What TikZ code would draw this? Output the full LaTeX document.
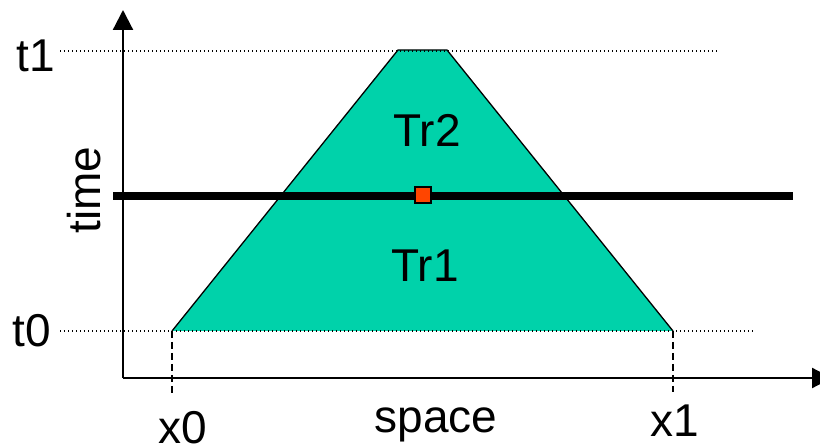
\documentclass[tikz,border=0pt]{standalone}
\usepackage{fontspec}
\setmainfont{Liberation Sans}
\usetikzlibrary{arrows.meta}
\definecolor{trap}{RGB}{0,210,170}
\definecolor{sq}{RGB}{255,69,0}
\begin{document}
\begin{tikzpicture}[x=1pt,y=-1pt,
  lbl/.style={font=\fontsize{46}{46}\selectfont, inner sep=0pt, anchor=base},
  guide/.style={dash pattern=on 1.3pt off 2.7pt, line width=1.3pt},
  drop/.style={dash pattern=on 7pt off 4pt, line width=1.5pt},
  axis/.style={line width=2.2pt, -{Triangle[length=20pt,width=20pt]}}]
\useasboundingbox (0,0) rectangle (820,446);
\coordinate (A) at (172,331);
\coordinate (B) at (673,331);
\coordinate (C) at (447,50);
\coordinate (D) at (398,50);
\coordinate (O) at (123,378);
\coordinate (Ytip) at (123,10);
\coordinate (Xtip) at (832,378);
\coordinate (t1s) at (60,51);
\coordinate (t1e) at (718,51);
\coordinate (t0s) at (60,331);
\coordinate (t0e) at (754,331);
\coordinate (A2) at (172,394);
\coordinate (B2) at (673,392);
\coordinate (Ls) at (113,196);
\coordinate (Le) at (793,196);
\fill[trap] (A) -- (B) -- (C) -- (D) -- cycle;
\draw[line width=1.3pt] (A) -- (D) -- (C) -- (B);
\draw[guide] (t1s) -- (t1e);
\draw[guide] (t0s) -- (t0e);
\draw[drop] (A) -- (A2);
\draw[drop] (B) -- (B2);
\draw[axis] (O) -- (Ytip);
\draw[axis] (O) -- (Xtip);
\draw[line width=7.5pt] (Ls) -- (Le);
\node[draw=black, fill=sq, line width=1.3pt, minimum size=16pt, inner sep=0pt] (sqr) at (423,195) {};
\node[lbl] (tr2) at (427,147) {Tr2};
\node[lbl] (tr1) at (425,282) {Tr1};
\node[lbl] (t1) at (36,72) {t1};
\node[lbl] (t0) at (32,347) {t0};
\node[lbl] (x0) at (183,444) {x0};
\node[lbl] (x1) at (675,437) {x1};
\node[lbl] (space) at (436,432) {space};
\node[lbl, rotate=90] (time) at (100,190) {time};
\end{tikzpicture}
\end{document}
